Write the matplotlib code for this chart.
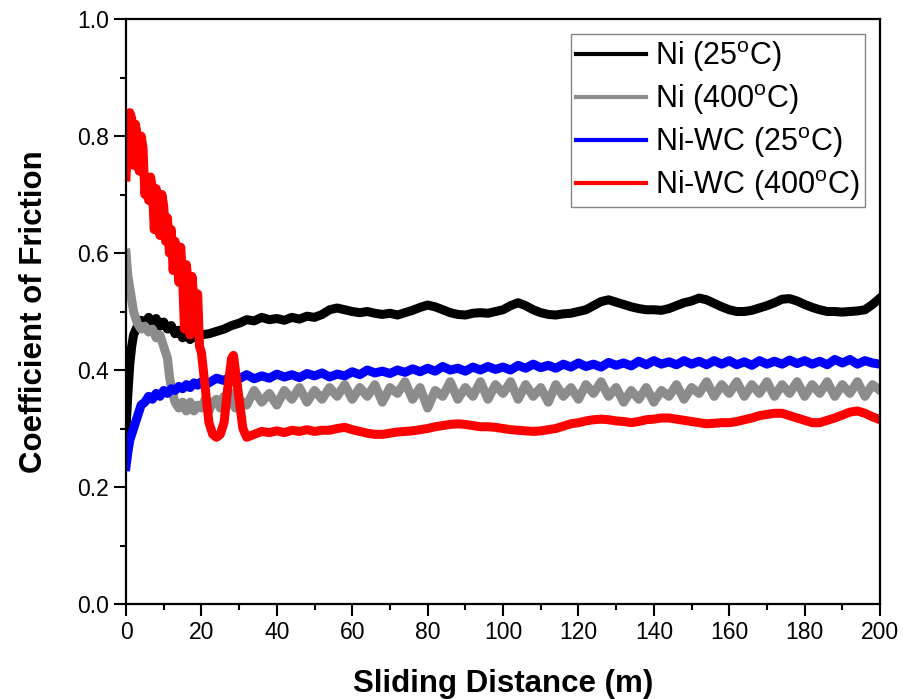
import matplotlib
matplotlib.use("Agg")
import matplotlib.pyplot as plt
from matplotlib.ticker import MultipleLocator, FormatStrFormatter

plt.rcParams['font.family'] = ['Liberation Sans', 'DejaVu Sans']
plt.rcParams['mathtext.default'] = 'regular'

# Ni (25C) - black
ni25_x = [0, 0.5, 1, 1.5, 2, 3, 4, 5, 6, 7, 8, 9, 10, 11, 12, 13, 14, 15, 16, 17, 18, 19, 20, 22, 24, 26, 28, 30,
          32, 34, 36, 38, 40, 42, 44, 46, 48, 50, 52, 54, 56, 58, 60, 62, 64, 66, 68, 70, 72, 74, 76, 78, 80,
          82, 84, 86, 88, 90, 92, 94, 96, 98, 100, 102, 104, 106, 108, 110, 112, 114, 116, 118, 120, 122, 124,
          126, 128, 130, 132, 134, 136, 138, 140, 142, 144, 146, 148, 150, 152, 154, 156, 158, 160, 162, 164,
          166, 168, 170, 172, 174, 176, 178, 180, 182, 184, 186, 188, 190, 192, 194, 196, 198, 200]
ni25_y = [0.30, 0.36, 0.41, 0.44, 0.46, 0.475, 0.485, 0.48, 0.49, 0.478, 0.488, 0.475, 0.482, 0.47, 0.476, 0.462,
          0.468, 0.455, 0.46, 0.452, 0.458, 0.455, 0.46, 0.462, 0.466, 0.47, 0.476, 0.48,
          0.486, 0.484, 0.49, 0.486, 0.488, 0.485, 0.49, 0.487, 0.492, 0.49, 0.495, 0.503, 0.506, 0.503, 0.5,
          0.498, 0.5, 0.497, 0.495, 0.497, 0.494, 0.498, 0.502, 0.507, 0.511, 0.508, 0.503, 0.498, 0.495, 0.494,
          0.497, 0.498, 0.497, 0.5, 0.503, 0.51, 0.515, 0.51, 0.503, 0.498, 0.495, 0.494, 0.496, 0.497, 0.5,
          0.503, 0.51, 0.517, 0.52, 0.516, 0.512, 0.508, 0.505, 0.503, 0.503, 0.502, 0.505, 0.51, 0.515, 0.518,
          0.523, 0.52, 0.514, 0.508, 0.503, 0.5, 0.5, 0.502, 0.506, 0.51, 0.515, 0.521, 0.522, 0.518, 0.512,
          0.507, 0.503, 0.5, 0.5, 0.499, 0.5, 0.501, 0.503, 0.512, 0.523]

# Ni (400C) - gray
ni400_x = [0, 0.5, 1, 1.5, 2, 3, 4, 5, 6, 7, 8, 9, 10, 11, 11.5, 12, 13, 14, 15, 16, 17, 18, 19, 20, 21, 22, 23,
           24, 25, 26, 27, 28, 29, 30, 32, 34, 36, 38, 40, 42, 44, 46, 48, 50, 52, 54, 56, 58, 60, 62, 64, 66,
           68, 70, 72, 74, 76, 78, 80, 82, 84, 86, 88, 90, 92, 94, 96, 98, 100, 102, 104, 106, 108, 110, 112,
           114, 116, 118, 120, 122, 124, 126, 128, 130, 132, 134, 136, 138, 140, 142, 144, 146, 148, 150, 152,
           154, 156, 158, 160, 162, 164, 166, 168, 170, 172, 174, 176, 178, 180, 182, 184, 186, 188, 190, 192,
           194, 196, 198, 200]
ni400_y = [0.60, 0.56, 0.54, 0.52, 0.50, 0.48, 0.47, 0.475, 0.465, 0.47, 0.455, 0.46, 0.44, 0.42, 0.39, 0.37,
           0.345, 0.335, 0.345, 0.33, 0.345, 0.33, 0.34, 0.335, 0.35, 0.33, 0.345, 0.35, 0.335, 0.355, 0.34,
           0.36, 0.335, 0.35, 0.34, 0.365, 0.345, 0.36, 0.34, 0.365, 0.35, 0.37, 0.345, 0.365, 0.35, 0.37,
           0.355, 0.375, 0.35, 0.37, 0.355, 0.375, 0.345, 0.37, 0.36, 0.38, 0.35, 0.37, 0.335, 0.365, 0.355,
           0.38, 0.35, 0.37, 0.355, 0.38, 0.35, 0.375, 0.36, 0.38, 0.35, 0.375, 0.355, 0.37, 0.345, 0.375,
           0.355, 0.37, 0.35, 0.375, 0.36, 0.38, 0.355, 0.37, 0.345, 0.365, 0.35, 0.37, 0.345, 0.365, 0.355,
           0.375, 0.35, 0.37, 0.36, 0.38, 0.355, 0.375, 0.36, 0.38, 0.355, 0.375, 0.36, 0.38, 0.355, 0.375,
           0.36, 0.38, 0.355, 0.375, 0.36, 0.38, 0.355, 0.375, 0.36, 0.38, 0.355, 0.375, 0.365]

# Ni-WC (25C) - blue
niwc25_x = [0, 0.5, 1, 2, 3, 4, 5, 6, 7, 8, 9, 10, 11, 12, 13, 14, 15, 16, 17, 18, 19, 20,
            22, 24, 26, 28, 30, 32, 34, 36, 38, 40,
            42, 44, 46, 48, 50, 52, 54, 56, 58, 60, 62, 64, 66, 68, 70, 72, 74, 76, 78, 80,
            82, 84, 86, 88, 90, 92, 94, 96, 98, 100, 102, 104, 106, 108, 110, 112, 114, 116, 118, 120,
            122, 124, 126, 128, 130, 132, 134, 136, 138, 140, 142, 144, 146, 148, 150, 152, 154, 156, 158, 160,
            162, 164, 166, 168, 170, 172, 174, 176, 178, 180, 182, 184, 186, 188, 190, 192, 194, 196, 198, 200]
niwc25_y = [0.235, 0.26, 0.28, 0.30, 0.32, 0.34, 0.345, 0.355, 0.35, 0.36, 0.355, 0.365, 0.36, 0.368, 0.365,
            0.372, 0.368, 0.375, 0.37, 0.378, 0.374, 0.38,
            0.378, 0.386, 0.382, 0.39, 0.385, 0.392, 0.385, 0.39, 0.386, 0.393,
            0.388, 0.392, 0.387, 0.394, 0.39, 0.395, 0.388, 0.393, 0.39, 0.397,
            0.392, 0.4, 0.395, 0.398, 0.394, 0.4, 0.396, 0.402, 0.397, 0.403,
            0.398, 0.406, 0.4, 0.403, 0.398, 0.405, 0.4, 0.406, 0.401, 0.405,
            0.4, 0.408, 0.403, 0.41, 0.404, 0.408, 0.403, 0.41, 0.405, 0.412,
            0.406, 0.41, 0.405, 0.413, 0.408, 0.412, 0.407, 0.415, 0.409, 0.416,
            0.41, 0.414, 0.409, 0.416, 0.41, 0.415, 0.409, 0.416, 0.41, 0.416,
            0.409, 0.414, 0.408, 0.416, 0.41, 0.415, 0.41, 0.417, 0.411, 0.416,
            0.41, 0.415, 0.409, 0.418, 0.412, 0.418, 0.41, 0.416, 0.412, 0.41]

# Ni-WC (400C) - red
niwc400_x = [0, 0.5, 1, 1.5, 2, 2.5, 3, 3.5, 4, 4.5, 5, 5.5, 6, 6.5, 7, 7.5, 8, 8.5, 9, 9.5, 10, 10.5, 11, 11.5,
             12, 12.5, 13, 13.5, 14, 14.5, 15, 15.5, 16, 16.5, 17, 17.5, 18, 18.5, 19, 19.5, 20, 21, 22, 23,
             24, 25, 26, 27, 28, 28.5, 29, 30, 31, 32, 34, 36, 38, 40, 42, 44, 46, 48, 50, 52, 54, 56, 58, 60,
             62, 64, 66, 68, 70, 72, 74, 76, 78, 80, 82, 84, 86, 88, 90, 92, 94, 96, 98, 100, 102, 104, 106, 108,
             110, 112, 114, 116, 118, 120, 122, 124, 126, 128, 130, 132, 134, 136, 138, 140, 142, 144, 146, 148,
             150, 152, 154, 156, 158, 160, 162, 164, 166, 168, 170, 172, 174, 176, 178, 180, 182, 184, 186, 188,
             190, 192, 194, 196, 198, 200]
niwc400_y = [0.73, 0.80, 0.84, 0.83, 0.75, 0.82, 0.80, 0.74, 0.80, 0.78, 0.70, 0.72, 0.69, 0.73, 0.71, 0.64,
             0.71, 0.69, 0.63, 0.70, 0.68, 0.62, 0.66, 0.60, 0.64, 0.57, 0.62, 0.59, 0.55, 0.61, 0.56, 0.47,
             0.58, 0.55, 0.46, 0.56, 0.52, 0.48, 0.53, 0.44, 0.43, 0.37, 0.31, 0.29,
             0.285, 0.29, 0.31, 0.37, 0.42, 0.425, 0.40, 0.35, 0.30, 0.285, 0.29, 0.295, 0.293, 0.296, 0.293,
             0.297, 0.295, 0.298, 0.295, 0.297, 0.297, 0.30, 0.302, 0.298, 0.295, 0.292, 0.29, 0.29, 0.292, 0.294,
             0.295, 0.296, 0.298, 0.30, 0.303, 0.305, 0.307, 0.308, 0.307, 0.305, 0.303, 0.303, 0.302, 0.30,
             0.298, 0.297, 0.296, 0.295, 0.296, 0.298, 0.30, 0.304, 0.308, 0.31, 0.313, 0.315, 0.316, 0.315,
             0.313, 0.312, 0.31, 0.312, 0.315, 0.316, 0.318, 0.318, 0.316, 0.314, 0.312, 0.31, 0.308, 0.309,
             0.31, 0.31, 0.312, 0.315, 0.318, 0.322, 0.324, 0.326, 0.326, 0.322, 0.318, 0.314, 0.31, 0.31,
             0.314, 0.318, 0.323, 0.328, 0.33, 0.326, 0.32, 0.315]

labels = [r'Ni (25$^{o}$C)', r'Ni (400$^{o}$C)', r'Ni-WC (25$^{o}$C)', r'Ni-WC (400$^{o}$C)']

fig = plt.figure(figsize=(9.04, 6.99), dpi=100)
ax = fig.add_axes([0.1394, 0.1359, 0.8341, 0.8369])

ax.plot(ni25_x, ni25_y, color='black', lw=6.5, label=labels[0])
ax.plot(ni400_x, ni400_y, color='#8c8c8c', lw=6.5, label=labels[1])
ax.plot(niwc25_x, niwc25_y, color='#0000ff', lw=6.5, label=labels[2])
ax.plot(niwc400_x, niwc400_y, color='#ff0000', lw=6.5, label=labels[3])

ax.set_xlim(0, 200)
ax.set_ylim(0.0, 1.0)
ax.xaxis.set_major_locator(MultipleLocator(20))
ax.xaxis.set_minor_locator(MultipleLocator(10))
ax.yaxis.set_major_locator(MultipleLocator(0.2))
ax.yaxis.set_minor_locator(MultipleLocator(0.1))
ax.yaxis.set_major_formatter(FormatStrFormatter('%.1f'))

ax.tick_params(which='major', direction='out', length=8.5, width=1.5, labelsize=16.5, pad=4,
               top=False, right=False)
ax.tick_params(which='minor', direction='out', length=4.5, width=1.5, top=False, right=False)
for s in ax.spines.values():
    s.set_linewidth(1.6)

ax.set_xlabel('Sliding Distance (m)', fontsize=22.5, fontweight='bold', labelpad=18)
ax.set_ylabel('Coefficient of Friction', fontsize=22.5, fontweight='bold', labelpad=20)

leg = ax.legend(loc='upper right', fontsize=22, frameon=True, fancybox=False, handlelength=2.3,
                borderaxespad=0.5, handletextpad=0.3, labelspacing=0.27, borderpad=0.15)
leg.get_frame().set_edgecolor('#666666')
leg.get_frame().set_linewidth(1.0)
for line in leg.get_lines():
    line.set_linewidth(3)

plt.savefig('out.png', dpi=100)
